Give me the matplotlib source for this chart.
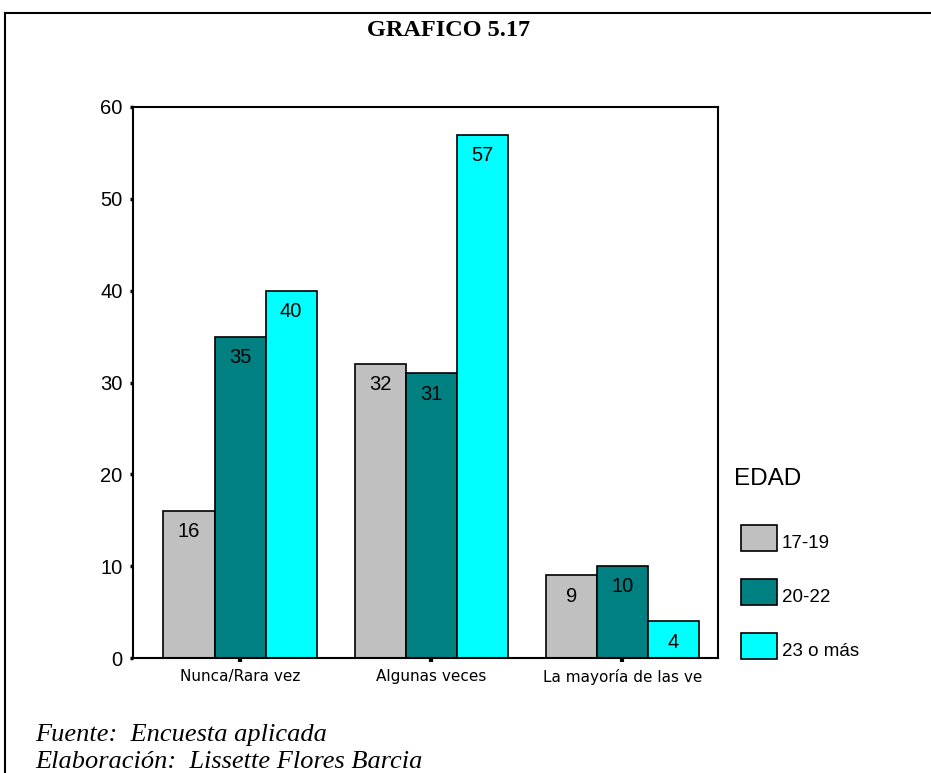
import matplotlib
matplotlib.use("Agg")
import matplotlib.pyplot as plt
from matplotlib.lines import Line2D
from matplotlib.patches import Rectangle
import numpy as np

categories = ["Nunca/Rara vez", "Algunas veces", "La mayoría de las ve"]
series_names = ["17-19", "20-22", "23 o más"]
values_17_19 = [16, 32, 9]
values_20_22 = [35, 31, 10]
values_23_mas = [40, 57, 4]
series_values = [values_17_19, values_20_22, values_23_mas]
colors = ["#C0C0C0", "#008080", "#00FFFF"]
y_ticks = [0, 10, 20, 30, 40, 50, 60]

W, H = 931, 773
fig = plt.figure(figsize=(W / 100, H / 100), dpi=100)
fig.patch.set_facecolor("white")

def fx(px):
    return px / W

def fy(py):
    return 1 - py / H

ax = fig.add_axes([fx(133), fy(658), fx(718) - fx(133), fy(107) - fy(658)])

x = np.arange(len(categories))
bw = 0.267
offsets = [-bw, 0, bw]
for vals, off, col in zip(series_values, offsets, colors):
    bars = ax.bar(x + off, vals, width=bw, color=col, edgecolor="black",
                  linewidth=1.2, zorder=2)
    for rect, v in zip(bars, vals):
        ax.annotate(str(v), (rect.get_x() + rect.get_width() / 2, v),
                    xytext=(0, -15), textcoords="offset points",
                    ha="center", va="center", fontsize=14.5,
                    family="Liberation Sans", color="black")

ax.set_xlim(-0.56, 2.5)
ax.set_ylim(0, 60)
ax.set_yticks(y_ticks)
ax.set_yticklabels([str(t) for t in y_ticks], family="Liberation Sans", fontsize=14.5)
ax.set_xticks(x)
ax.set_xticklabels(categories, family="DejaVu Sans", fontsize=11)
ax.tick_params(axis="y", direction="out", length=2.5, width=2.5, pad=5)
ax.tick_params(axis="x", direction="out", length=3, width=3, pad=5)
for s in ax.spines.values():
    s.set_linewidth(1.5)

# Title and footer
fig.text(fx(449), fy(30), "GRAFICO 5.17", ha="center", va="center",
         family="Liberation Serif", fontweight="bold", fontsize=17.5)
fig.text(fx(35), fy(735), "Fuente:  Encuesta aplicada", ha="left", va="center",
         family="Liberation Serif", style="italic", fontsize=19)
fig.text(fx(35), fy(762), "Elaboración:  Lissette Flores Barcia", ha="left",
         va="center", family="Liberation Serif", style="italic", fontsize=19)

# Legend
fig.text(fx(734), fy(479), "EDAD", ha="left", va="center",
         family="Liberation Sans", fontsize=17.5)
box_tops = [525, 579, 633]
for name, col, top in zip(series_names, colors, box_tops):
    fig.add_artist(Rectangle((fx(741), fy(top + 26)), fx(777) - fx(741),
                             fy(top) - fy(top + 26), facecolor=col,
                             edgecolor="black", linewidth=1.2,
                             transform=fig.transFigure))
    fig.text(fx(782), fy(top + 18), name, ha="left", va="center",
             family="Liberation Sans", fontsize=13.5)

# Frame around the figure
fig.add_artist(Line2D([fx(5), fx(5)], [fy(13), 0], color="black", lw=1.5,
                      transform=fig.transFigure))
fig.add_artist(Line2D([fx(5), 1], [fy(13), fy(13)], color="black", lw=1.5,
                      transform=fig.transFigure))

fig.savefig("out.png", dpi=100, facecolor="white")
